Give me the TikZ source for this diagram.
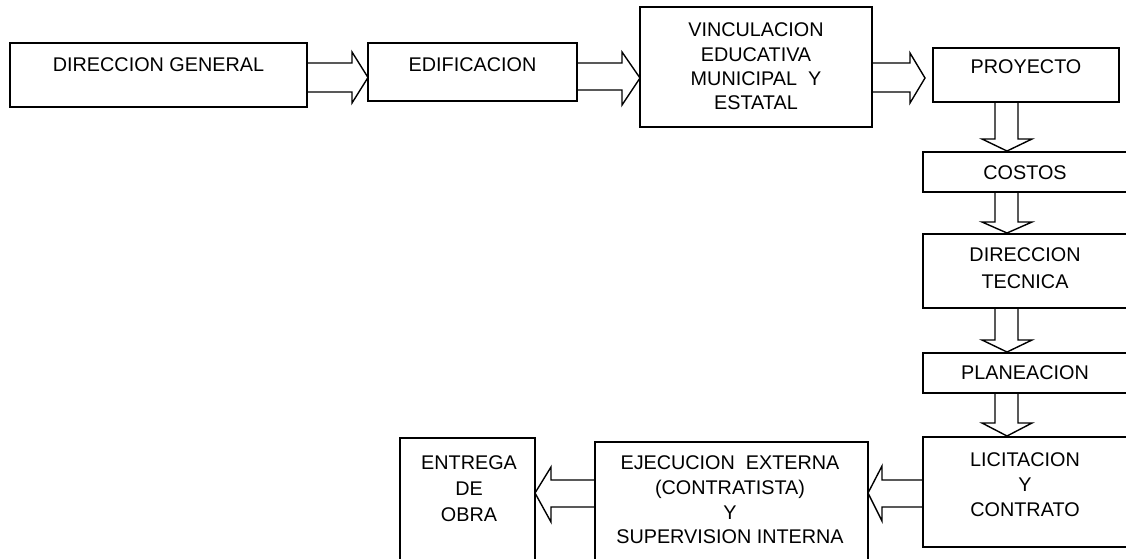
\documentclass[tikz,border=0pt]{standalone}
\usepackage{fontspec}
\setmainfont{Liberation Sans}
\usetikzlibrary{calc}
% right-pointing block arrow: from, to, shaft top, shaft bottom, head length, head top, head bottom, gap, tip y
\newcommand\rarr[9]{%
  \draw[barrow] (#1.east |- 0,#3)
    -- ($(#2.west |- 0,#3)+({-(#5+#8)},0)$)
    -- ($(#2.west |- 0,#6)+({-(#5+#8)},0)$)
    -- ($(#2.west |- 0,#9)+({-(#8)},0)$)
    -- ($(#2.west |- 0,#7)+({-(#5+#8)},0)$)
    -- ($(#2.west |- 0,#4)+({-(#5+#8)},0)$)
    -- (#1.east |- 0,#4);}
% left-pointing block arrow: from, to, shaft top, shaft bottom, head length, head top, head bottom, tip y
\newcommand\larr[8]{%
  \draw[barrow] (#1.west |- 0,#3)
    -- ($(#2.east |- 0,#3)+(#5,0)$)
    -- ($(#2.east |- 0,#6)+(#5,0)$)
    -- (#2.east |- 0,#8)
    -- ($(#2.east |- 0,#7)+(#5,0)$)
    -- ($(#2.east |- 0,#4)+(#5,0)$)
    -- (#1.west |- 0,#4);}
% down-pointing block arrow: from, to, shaft left x, shaft right x, head length, head left x, head right x, tip x
\newcommand\darr[8]{%
  \draw[barrow] (#3,0 |- #1.south)
    -- ($(#3,0 |- #2.north)+(0,-#5)$)
    -- ($(#6,0 |- #2.north)+(0,-#5)$)
    -- ($(#8,0 |- #2.north)+(0,-1)$)
    -- ($(#7,0 |- #2.north)+(0,-#5)$)
    -- ($(#4,0 |- #2.north)+(0,-#5)$)
    -- (#4,0 |- #1.south);}
\begin{document}
\begin{tikzpicture}[x=1pt,y=-1pt,
  box/.style={draw, line width=1.8pt, inner sep=0pt, outer sep=0pt},
  lbl/.style={font=\fontsize{19.8}{24.5}\selectfont, align=center, inner sep=0pt, text=black},
  barrow/.style={draw, line width=1.4pt, line join=miter}]
\useasboundingbox (0,0) rectangle (1126,558);

% boxes
\node[box, minimum width=297pt, minimum height=64pt]  (dg) at (158.5,75) {};
\node[box, minimum width=209pt, minimum height=58pt]  (ed) at (472.5,72) {};
\node[box, minimum width=232pt, minimum height=120pt] (vi) at (756,67) {};
\node[box, minimum width=186pt, minimum height=54pt]  (pr) at (1026,75) {};
\node[box, minimum width=208pt, minimum height=40pt]  (co) at (1027,172) {};
\node[box, minimum width=208pt, minimum height=74pt]  (dt) at (1027,271) {};
\node[box, minimum width=208pt, minimum height=40pt]  (pl) at (1027,373) {};
\node[box, minimum width=208pt, minimum height=110pt] (li) at (1027,492) {};
\node[box, minimum width=273pt, minimum height=128pt] (ej) at (731.5,506) {};
\node[box, minimum width=135pt, minimum height=132pt] (en) at (467.5,504) {};

% labels
\node[lbl] (dgt) at (dg.center |- 0,65) {DIRECCION GENERAL};
\node[lbl] (edt) at (ed.center |- 0,65) {EDIFICACION};
\node[lbl, font=\fontsize{19.8}{24.4}\selectfont] (vit) at (vi.center |- 0,66.5) {VINCULACION\\EDUCATIVA\\MUNICIPAL\ \ Y\\ESTATAL};
\node[lbl] (prt) at (pr.center |- 0,67) {PROYECTO};
\node[lbl] (cot) at (1025,173) {COSTOS};
\node[lbl, font=\fontsize{19.8}{27}\selectfont] (dtt) at (1025,268.5) {DIRECCION\\TECNICA};
\node[lbl] (plt) at (1025,373) {PLANEACION};
\node[lbl, font=\fontsize{19.8}{25}\selectfont] (lit) at (1025,485) {LICITACION\\Y\\CONTRATO};
\node[lbl, font=\fontsize{19.8}{24.7}\selectfont] (ejt) at (730,500) {EJECUCION\ \ EXTERNA\\(CONTRATISTA)\\Y\\SUPERVISION INTERNA};
\node[lbl, font=\fontsize{19.8}{26}\selectfont] (ent) at (469,489) {ENTREGA\\DE\\OBRA};

% block arrows
\rarr{dg}{ed}{63}{92}{16}{52}{103}{0}{77.5}
\rarr{ed}{vi}{63}{90}{18}{52}{105}{0}{78}
\rarr{vi}{pr}{63}{92}{15}{53}{103}{8}{78}
\darr{pr}{co}{995}{1018}{13}{982}{1032}{1007}
\darr{co}{dt}{995}{1018}{12}{982}{1032}{1007}
\darr{dt}{pl}{995}{1018}{13}{982}{1032}{1007}
\darr{pl}{li}{995}{1018}{14}{982}{1032}{1007}
\larr{li}{ej}{480}{507}{14}{466}{521}{493}
\larr{ej}{en}{480}{507}{16}{467}{522}{493}
\end{tikzpicture}
\end{document}
